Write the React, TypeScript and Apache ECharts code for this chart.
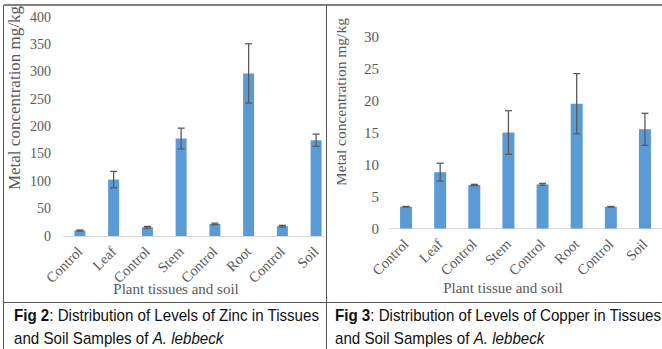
import React, { useEffect, useRef } from "react";
import * as echarts from "echarts";

const categories = ["Control", "Leaf", "Control", "Stem", "Control", "Root", "Control", "Soil"];
const zincMeans = [10, 103, 16, 178, 22, 297, 18, 175];
const zincErrors = [1, 15, 1.5, 19, 1.5, 54, 1.5, 11];
const copperMeans = [3.4, 8.8, 6.8, 15.0, 6.9, 19.5, 3.4, 15.5];
const copperErrors = [0.05, 1.4, 0.1, 3.4, 0.15, 4.7, 0.05, 2.5];
const zincTicks = { min: 0, max: 400, interval: 50 };
const copperTicks = { min: 0, max: 30, interval: 5 };
const yTitle = "Metal concentration mg/kg";
const xTitleZinc = "Plant tissues and soil";
const xTitleCopper = "Plant tissue and soil";
const caption2 = ["Fig 2", ": Distribution of Levels of Zinc in Tissues", "and Soil Samples of ", "A. lebbeck"];
const caption3 = ["Fig 3", ": Distribution of Levels of Copper in Tissues", "and Soil Samples of ", "A. lebbeck"];

const GRAY = "#595959";
const SERIF = "'Liberation Serif', 'Times New Roman', serif";
const SANS = "'Liberation Sans', Arial, sans-serif";

function errorData(means: number[], errs: number[]) {
  return means.map((m, i) => [i, m - errs[i], m + errs[i]]);
}

function errorRender(params: any, api: any) {
  const x = api.value(0);
  const lo = api.coord([x, api.value(1)]);
  const hi = api.coord([x, api.value(2)]);
  const cap = 3.5;
  const style = { stroke: "#5a5a5a", lineWidth: 1.3 };
  return {
    type: "group",
    children: [
      { type: "line", shape: { x1: hi[0], y1: hi[1], x2: lo[0], y2: lo[1] }, style },
      { type: "line", shape: { x1: hi[0] - cap, y1: hi[1], x2: hi[0] + cap, y2: hi[1] }, style },
      { type: "line", shape: { x1: lo[0] - cap, y1: lo[1], x2: lo[0] + cap, y2: lo[1] }, style },
    ],
  };
}

function captionText(parts: string[], x: number) {
  const fs = 17;
  const sx = 0.89;
  return [
    {
      type: "text",
      x,
      y: 315,
      scaleX: sx,
      style: {
        text: "{b|" + parts[0] + "}{n|" + parts[1] + "}",
        verticalAlign: "middle",
        rich: {
          b: { fontFamily: SANS, fontSize: fs, fontWeight: "bold", fill: "#111" },
          n: { fontFamily: SANS, fontSize: fs, fill: "#111" },
        },
      },
      z: 100,
    },
    {
      type: "text",
      x,
      y: 338,
      scaleX: sx,
      style: {
        text: "{n|" + parts[2] + "}{i|" + parts[3] + "}",
        verticalAlign: "middle",
        rich: {
          n: { fontFamily: SANS, fontSize: fs, fill: "#111" },
          i: { fontFamily: SANS, fontSize: fs, fontStyle: "italic", fill: "#111" },
        },
      },
      z: 100,
    },
  ];
}

export default function App() {
  const ref = useRef<HTMLDivElement>(null);
  useEffect(() => {
    if (!ref.current) return;
    const chart = echarts.init(ref.current, undefined, { renderer: "svg" });
    const xAxisBase = {
      type: "category",
      data: categories,
      axisTick: { show: false },
      axisLine: { lineStyle: { color: "#d9d9d9", width: 1 } },
      axisLabel: { rotate: 45, color: GRAY, fontFamily: SERIF, fontSize: 14.5, margin: 13, interval: 0 },
    };
    const yAxisBase = {
      type: "value",
      splitLine: { show: false },
      axisLine: { show: false },
      axisTick: { show: false },
    };
    chart.setOption({
      animation: false,
      grid: [
        { left: 63, top: 17, width: 270, height: 219 },
        { left: 389, top: 36.5, width: 288, height: 192 },
      ],
      xAxis: [
        { ...xAxisBase, gridIndex: 0 },
        { ...xAxisBase, gridIndex: 1 },
      ],
      yAxis: [
        {
          ...yAxisBase,
          gridIndex: 0,
          ...zincTicks,
          axisLabel: { color: GRAY, fontFamily: SERIF, fontSize: 14, margin: 12 },
        },
        {
          ...yAxisBase,
          gridIndex: 1,
          ...copperTicks,
          axisLabel: { color: GRAY, fontFamily: SERIF, fontSize: 15, margin: 10 },
        },
      ],
      series: [
        {
          type: "bar",
          xAxisIndex: 0,
          yAxisIndex: 0,
          data: zincMeans,
          barWidth: 11,
          itemStyle: { color: "#5b9bd5" },
        },
        {
          type: "custom",
          xAxisIndex: 0,
          yAxisIndex: 0,
          data: errorData(zincMeans, zincErrors),
          renderItem: errorRender,
          encode: { x: 0, y: [1, 2] },
          z: 5,
        },
        {
          type: "bar",
          xAxisIndex: 1,
          yAxisIndex: 1,
          data: copperMeans,
          barWidth: 12,
          itemStyle: { color: "#5b9bd5" },
        },
        {
          type: "custom",
          xAxisIndex: 1,
          yAxisIndex: 1,
          data: errorData(copperMeans, copperErrors),
          renderItem: errorRender,
          encode: { x: 0, y: [1, 2] },
          z: 5,
        },
      ],
      graphic: [
        { type: "rect", shape: { x: 327, y: 6, width: 10, height: 296 }, style: { fill: "#fff" }, z: 90 },
        { type: "line", shape: { x1: 4, y1: 5, x2: 662, y2: 5 }, style: { stroke: "#808080", lineWidth: 2 }, z: 95 },
        { type: "line", shape: { x1: 3.5, y1: 5, x2: 3.5, y2: 349 }, style: { stroke: "#555", lineWidth: 1 }, z: 95 },
        { type: "line", shape: { x1: 326.5, y1: 5, x2: 326.5, y2: 349 }, style: { stroke: "#555", lineWidth: 1 }, z: 95 },
        { type: "line", shape: { x1: 4, y1: 302.5, x2: 662, y2: 302.5 }, style: { stroke: "#555", lineWidth: 1 }, z: 95 },
        {
          type: "text",
          x: 14,
          y: 98,
          rotation: Math.PI / 2,
          style: { text: yTitle, fill: GRAY, fontFamily: SERIF, fontSize: 17, align: "center", verticalAlign: "middle" },
          z: 50,
        },
        {
          type: "text",
          x: 340,
          y: 102,
          rotation: Math.PI / 2,
          style: { text: yTitle, fill: GRAY, fontFamily: SERIF, fontSize: 15.5, align: "center", verticalAlign: "middle" },
          z: 50,
        },
        {
          type: "text",
          x: 176,
          y: 289,
          style: { text: xTitleZinc, fill: GRAY, fontFamily: SERIF, fontSize: 15, align: "center", verticalAlign: "middle" },
          z: 50,
        },
        {
          type: "text",
          x: 503,
          y: 288,
          style: { text: xTitleCopper, fill: GRAY, fontFamily: SERIF, fontSize: 15, align: "center", verticalAlign: "middle" },
          z: 50,
        },
        ...captionText(caption2, 14),
        ...captionText(caption3, 335),
      ],
    });
    return () => chart.dispose();
  }, []);
  return (
    <div
      ref={ref}
      style={{ position: "fixed", left: 0, top: 0, width: 662, height: 349, background: "#fff" }}
    />
  );
}
